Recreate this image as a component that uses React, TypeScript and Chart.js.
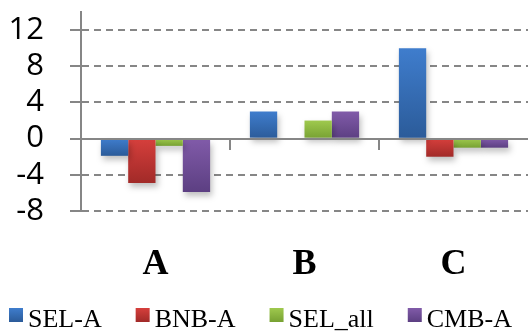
import React, { useEffect, useRef } from "react";
import { Chart, registerables } from "chart.js";

Chart.register(...registerables);

// ---- data ----
const categories = ["A", "B", "C"];
const seriesNames = ["SEL-A", "BNB-A", "SEL_all", "CMB-A"];
const selA = [-1.9, 3, 10];
const bnbA = [-4.9, 0, -2];
const selAll = [-0.8, 2, -1];
const cmbA = [-5.9, 3, -1];
const yTickValues = [-8, -4, 0, 4, 8, 12];
const yMin = -8;
const yMax = 14;

// ---- styles ----
const palette = [
  { top: "#3f7dcd", bottom: "#2b5b99", flat: "#3568b0" },
  { top: "#d63f3c", bottom: "#a12a28", flat: "#c03633" },
  { top: "#9fc94e", bottom: "#77a132", flat: "#8bb53f" },
  { top: "#815ba9", bottom: "#5c3f82", flat: "#704e97" },
];
const gridGray = "#868686";

function barFill(i: number) {
  return (ctx: any) => {
    const p = palette[i];
    const chart = ctx.chart;
    if (ctx.type !== "data" || !chart.chartArea || !chart.scales.y) return p.flat;
    const ys = chart.scales.y;
    const a = ys.getPixelForValue(ctx.raw as number);
    const b = ys.getPixelForValue(0);
    const t = Math.min(a, b);
    const btm = Math.max(a, b);
    if (btm - t < 1) return p.flat;
    const g = chart.ctx.createLinearGradient(0, t, 0, btm);
    g.addColorStop(0, p.top);
    g.addColorStop(1, p.bottom);
    return g;
  };
}

const decorPlugin = {
  id: "decor",
  beforeDatasetsDraw(chart: any) {
    const c = chart.ctx;
    c.save();
    c.shadowColor = "rgba(0,0,0,0.25)";
    c.shadowBlur = 6;
    c.shadowOffsetX = 2;
    c.shadowOffsetY = 4;
  },
  afterDatasetsDraw(chart: any) {
    const c = chart.ctx;
    c.restore();
    const { left, right } = chart.chartArea;
    const ys = chart.scales.y;
    const xs = chart.scales.x;
    const y0 = Math.round(ys.getPixelForValue(0));
    const n = chart.data.labels.length;
    const w = (xs.right - xs.left) / n;
    c.save();
    c.strokeStyle = gridGray;
    c.lineWidth = 2;
    c.beginPath();
    c.moveTo(left, y0);
    c.lineTo(right, y0);
    for (let i = 1; i < n; i++) {
      const x = Math.round(xs.getPixelForValue(i) - w / 2);
      c.moveTo(x, y0);
      c.lineTo(x, y0 + 11);
    }
    c.stroke();
    c.restore();
  },
  afterDraw(chart: any) {
    const c = chart.ctx;
    c.save();
    c.font = "26px 'Liberation Serif', 'Times New Roman', serif";
    const items = chart.data.datasets.map((d: any, i: number) => ({
      label: d.label as string,
      w: c.measureText(d.label).width,
      i,
    }));
    const box = 14;
    const gapText = 5;
    const gapItem = 34;
    const total =
      items.reduce((s: number, it: any) => s + box + gapText + it.w, 0) +
      gapItem * (items.length - 1);
    let x = Math.round((chart.width - total) / 2) - 4;
    const boxTop = chart.height - 24;
    const baseline = chart.height - 5.5;
    for (const it of items) {
      const p = palette[it.i];
      const g = c.createLinearGradient(0, boxTop, 0, boxTop + box);
      g.addColorStop(0, p.top);
      g.addColorStop(1, p.bottom);
      c.fillStyle = g;
      c.fillRect(x, boxTop, box, box);
      c.fillStyle = "#000";
      c.textBaseline = "alphabetic";
      c.textAlign = "left";
      c.fillText(it.label, x + box + gapText, baseline);
      x += box + gapText + it.w + gapItem;
    }
    c.restore();
  },
};

export default function App() {
  const ref = useRef<HTMLCanvasElement | null>(null);

  useEffect(() => {
    if (!ref.current) return;
    const series = [selA, bnbA, selAll, cmbA];
    const chart = new Chart(ref.current, {
      type: "bar",
      data: {
        labels: categories,
        datasets: series.map((vals, i) => ({
          label: seriesNames[i],
          data: vals,
          backgroundColor: barFill(i),
          borderWidth: 0,
          categoryPercentage: 0.733,
          barPercentage: 1,
        })),
      },
      options: {
        animation: false,
        responsive: false,
        devicePixelRatio: 1,
        layout: { padding: { top: 12, left: 0, right: 0, bottom: 0 } },
        plugins: {
          legend: { display: false },
          tooltip: { enabled: false },
        },
        scales: {
          x: {
            grid: { display: false, drawTicks: false },
            border: { display: false },
            ticks: {
              padding: 36,
              color: "#000",
              font: {
                family: "'Liberation Serif', 'Times New Roman', serif",
                size: 36,
                weight: "bold",
                lineHeight: 1,
              },
            },
            afterFit(scale: any) {
              scale.height = 121;
              scale.paddingLeft = 0;
              scale.paddingRight = 0;
            },
          },
          y: {
            min: yMin,
            max: yMax,
            afterBuildTicks(scale: any) {
              scale.ticks = yTickValues.map((v) => ({ value: v }));
            },
            afterFit(scale: any) {
              scale.width = 81;
              scale.paddingTop = 0;
              scale.paddingBottom = 0;
            },
            grid: {
              color: (ctx: any) =>
                ctx.tick && ctx.tick.value === 0 ? "rgba(0,0,0,0)" : gridGray,
              lineWidth: 2,
              drawTicks: true,
              tickLength: 11,
              tickColor: gridGray,
              tickWidth: 2,
              tickBorderDash: [],
            },
            border: { display: true, color: gridGray, width: 2, dash: [7, 5] },
            ticks: {
              padding: 26,
              color: "#000",
              font: { family: "'Open Sans', 'Liberation Sans', sans-serif", size: 31, lineHeight: 1 },
              callback: (v: any) => String(v),
            },
          },
        },
      },
      plugins: [decorPlugin],
    });
    return () => chart.destroy();
  }, []);

  return (
    <div style={{ position: "absolute", left: 0, top: 0, width: 528, height: 332, background: "#fff" }}>
      <canvas ref={ref} width={528} height={332} style={{ display: "block" }} />
    </div>
  );
}
